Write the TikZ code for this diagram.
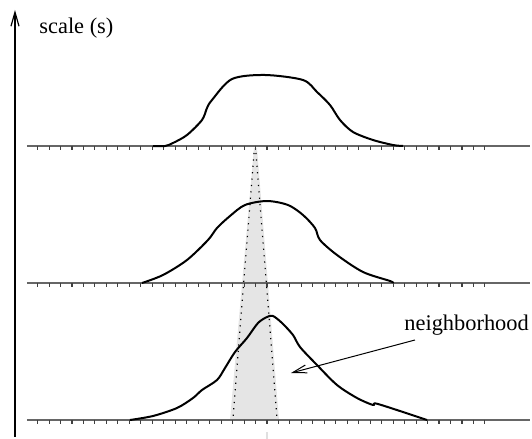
\documentclass[tikz,border=0pt]{standalone}
\usepackage{fontspec}
\setmainfont{Liberation Serif}
\usetikzlibrary{arrows.meta}

\tikzset{
  profile/.style={line width=1pt, line join=round},
  baseaxis/.style={black!60, line width=0.65pt},
  tickmark/.style={black!75, line width=0.55pt},
  window/.style={dash pattern=on 0.6pt off 2.6pt, line width=0.6pt},
  txt/.style={font=\fontsize{11.2}{13}\selectfont, inner sep=0pt},
}

\begin{document}
\begin{tikzpicture}[x=0.5pt, y=-0.5pt, >={Straight Barb[length=7pt,width=4pt]}]
        \useasboundingbox (0,0) rectangle (532,439);

        % kuzel okoli
        \fill[black!10] (254,148) -- (257,148) -- (279,420) -- (230,420) -- cycle;
        \draw[window] (254,153) -- (233,418);
        \draw[window] (256,153) -- (277,418);
        \draw[black!12, line width=0.8pt] (267,432) -- (267,439);

        % osy
        \coordinate (ybot) at (15,437);
        \coordinate (ytop) at (15,10);
        \draw[->, line width=0.6pt] (ybot) -- (ytop);
        \foreach \y in {146,283,420} {
            \draw[baseaxis] (27,\y) -- (530,\y);
            \foreach \k in {0,...,39}
                \draw[tickmark] (37.6+11.47*\k,\y) -- ++(0,4);
        }

        % profily
        \draw[profile] plot[smooth, tension=0.5] coordinates {
            (153,146) (165,146) (173,143) (187,135) (202,120) (207,108)
            (212,100) (232,79) (265,75) (303,80) (317,92) (330,105)
            (340,120) (353,132) (373,140) (393,145) (403,146)};
        \draw[profile] plot[smooth, tension=0.5] coordinates {
            (142,283) (163,275) (187,260) (208,240) (217,228) (230,216)
            (245,205) (267,201) (288,205) (303,215) (315,228) (320,240)
            (337,255) (363,272) (390,281) (393,283)};
        \draw[profile] plot[smooth, tension=0.5] coordinates {
            (130,420) (153,416) (177,408) (193,398) (202,390) (217,380)
            (225,368) (235,352) (247,338) (258,323) (267,317) (273,316)
            (282,323) (293,335) (300,347) (317,365) (337,385) (357,398)
            (373,405) (378,404) (427,420)};

        % popisky
        \node[txt, anchor=base west] (scale) at (39,33) {scale (s)};
        \node[txt, anchor=base west] (nbhd) at (404,330) {neighborhood};
        \coordinate (nbstart) at (415,340);
        \coordinate (nbtip) at (291,373);
        \draw[->, line width=0.5pt] (nbstart) -- (nbtip);

    \end{tikzpicture}
\end{document}
